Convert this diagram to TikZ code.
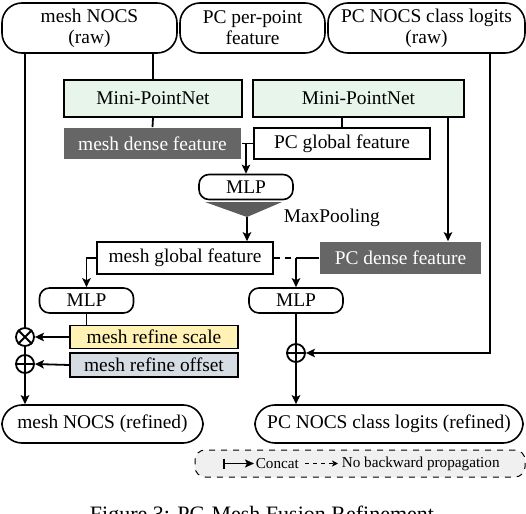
\documentclass[tikz,border=0pt]{standalone}
\usepackage{fontspec}
\setmainfont{Liberation Serif}
\usepackage{tikz}
\usetikzlibrary{calc}
\usetikzlibrary{arrows.meta}
\usepackage{xcolor}

\definecolor{mintfill}{RGB}{232,245,235}
\definecolor{darkfill}{RGB}{102,102,102}
\definecolor{scalefill}{RGB}{255,242,180}
\definecolor{offsetfill}{RGB}{214,220,227}
\definecolor{legendfill}{RGB}{240,240,240}

\begin{document}
\begin{tikzpicture}[x=0.5pt,y=-0.5pt,line width=0.8pt,
  font=\fontsize{9.7}{10.4}\selectfont,
  every node/.style={inner sep=0pt,align=center},
  arr/.style={line width=0.9pt,-{Stealth[length=4.5pt,width=4.2pt,inset=1pt]}},
  nobp/.style={line width=0.9pt,dash pattern=on 3pt off 2.5pt},
  io/.style={draw,rounded corners=10pt,minimum height=25pt},
  net/.style={draw,fill=mintfill,minimum height=18.5pt},
  dark/.style={fill=darkfill,text=white,minimum height=16pt},
  feat/.style={draw,fill=white,minimum height=16pt},
  mlp/.style={draw,rounded corners=5pt,minimum width=47pt,minimum height=12.5pt},
  refine/.style={draw,minimum width=84pt,minimum height=11.5pt},
  op/.style={draw,line width=0.9pt,circle,minimum size=9pt}]
\useasboundingbox (0,0) rectangle (526,514);

% ---------- inputs ----------
\node[io,minimum width=87.5pt] (rawmesh)  at (89.5,28)  {mesh NOCS\\(raw)};
\node[io,minimum width=72.5pt] (perpoint) at (252.5,28) {PC per-point\\feature};
\node[io,minimum width=98.5pt] (rawpc)    at (426.5,28) {PC NOCS class logits\\(raw)};

% ---------- encoders ----------
\node[net,minimum width=89pt]    (mpmesh) at (153,98.5)   {Mini-PointNet};
\node[net,minimum width=105.5pt] (mppc)   at (358.5,98.5) {Mini-PointNet};
\node[dark,minimum width=88.5pt,minimum height=15.5pt] (densemesh) at (152.5,143.5) {mesh dense feature};
\node[feat,minimum width=88pt,minimum height=15.5pt]   (globalpc)  at (342,143.5)   {PC global feature};

\draw[line width=0.9pt] (rawmesh.south -| mpmesh.north) -- (mpmesh.north);
\draw[nobp] ($(perpoint.south)+(39.5,0)$) -- ($(perpoint.south)+(39.5,0)$ |- mppc.north);
\draw[line width=0.9pt] ($(rawpc.south)+(1.5,0)$) -- ($(rawpc.south)+(1.5,0)$ |- mppc.north);
\draw[line width=0.9pt] (mpmesh.south) -- (densemesh.north);
\draw[line width=0.9pt] (globalpc.north |- mppc.south) -- (globalpc.north);

% ---------- mesh branch : concat -> MLP -> MaxPooling ----------
\node[mlp] (mlptop) at (246,187) {MLP};
\coordinate (cat1) at (mlptop.north |- densemesh.east);
\draw[line width=0.9pt] (densemesh.east) -- (globalpc.west);
\draw[arr] (cat1) -- (mlptop.north);
\fill[darkfill!90!black] (205,202) -- (282,202) -- (247,217) -- cycle;
\coordinate (poolapex) at (247,217);
\node[anchor=base west] (pool) at (283,222) {MaxPooling};

\node[feat,minimum width=88pt]   (globalmesh) at (185,258)   {mesh global feature};
\node[dark,minimum width=80.5pt] (densepc)    at (400.5,258) {PC dense feature};
\draw[arr] (poolapex) -- (poolapex |- globalmesh.north);
\coordinate (pcskip) at ($(densepc.north)+(47.5,0)$);
\draw[arr] (pcskip |- mppc.south) -- (pcskip);

% ---------- second concat ----------
\node[mlp] (mlpl) at (86.5,300.5) {MLP};
\node[mlp] (mlpr) at (296,300.5)  {MLP};
\coordinate (cat2) at (mlpr.north |- densepc.west);
\draw[nobp] (globalmesh.east) -- (cat2);
\draw[line width=0.9pt] (cat2) -- (densepc.west);
\draw[arr] (cat2) -- (mlpr.north);
\draw[arr] (globalmesh.west) -| (mlpl.north);

% ---------- mesh refine ----------
\node[refine,fill=scalefill]  (scale)  at (154,337) {mesh refine scale};
\node[refine,fill=offsetfill,minimum height=12pt] (offset) at (154,365) {mesh refine offset};
\node[op] (mul)  at (25,337) {};
\node[op] (addl) at (25,364) {};
\node[op] (addr) at (296,353) {};
\draw[line width=0.9pt] (mul.north west) -- (mul.south east) (mul.north east) -- (mul.south west);
\draw[line width=0.9pt] (addl.north) -- (addl.south) (addl.west) -- (addl.east);
\draw[line width=0.9pt] (addr.north) -- (addr.south) (addr.west) -- (addr.east);

\draw[line width=0.9pt] (mlpl.south) -- (mlpl.south |- scale.north);
\draw[arr] (scale.west) -- (mul.east);
\draw[arr] (offset.west) -- (addl.east);
\draw[line width=0.9pt] (rawmesh.south -| mul.north) -- (mul.north);
\draw[line width=0.9pt] (mul.south) -- (addl.north);
\draw[line width=0.9pt] (mlpr.south) -- (addr.north);
\coordinate (logitskip) at ($(rawpc.south)+(63.5,0)$);
\draw[arr] (logitskip) |- (addr.east);

% ---------- outputs ----------
\node[io,minimum width=100.5pt,minimum height=19pt] (refmesh) at (102.5,424) {mesh NOCS (refined)};
\node[io,minimum width=134pt,minimum height=19pt]   (refpc)   at (389,424)   {PC NOCS class logits (refined)};
\draw[arr] (addl.south) -- (addl.south |- refmesh.north);
\draw[arr] (addr.south) -- (addr.south |- refpc.north);

% ---------- legend ----------
\node[draw,dashed,line width=0.5pt,fill=legendfill,rounded corners=5pt,
  minimum width=165pt,minimum height=13.5pt] (legend) at (360,463.5) {};
\node[anchor=west,font=\fontsize{7.6}{8}\selectfont] (cattext) at (255,463.5) {Concat};
\node[anchor=west,font=\fontsize{7.6}{8}\selectfont] (nobptext) at (341,463.5) {No backward propagation};
\draw[line width=0.9pt,{Bar[width=5pt]}-{Stealth[length=4.5pt,width=4pt,inset=1pt]}] ($(cattext.west)+(-32,0)$) -- ($(cattext.west)+(-1,0)$);
\draw[line width=0.9pt,dash pattern=on 2pt off 2pt,-{Stealth[length=3pt,width=3pt,inset=0.8pt]}] ($(nobptext.west)+(-36,0)$) -- ($(nobptext.west)+(-3,0)$);

% ---------- caption (cut by the frame) ----------
\node[anchor=base,font=\fontsize{11}{12}\selectfont] (caption) at (262,521) {Figure 3: PC-Mesh Fusion Refinement};
\end{tikzpicture}
\end{document}
